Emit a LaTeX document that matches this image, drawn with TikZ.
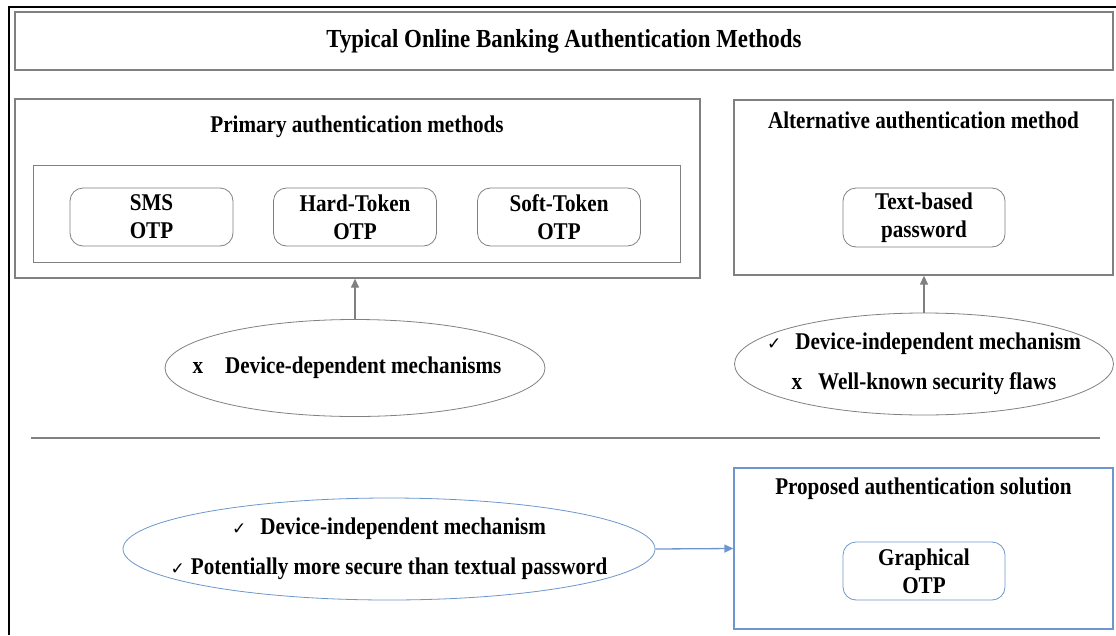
\documentclass[tikz,border=0pt]{standalone}
\usepackage{fontspec}
\setmainfont{Liberation Serif}[FakeStretch=0.88]
\newfontfamily\tickfont{DejaVu Sans}
\usetikzlibrary{arrows.meta, shapes.geometric}
\definecolor{boxGray}{RGB}{128,128,128}
\definecolor{lineBlue}{RGB}{108,150,205}
\newcommand{\yes}{{\tickfont\fontsize{17}{17}\selectfont ✓}}

\begin{document}
\begin{tikzpicture}[x=1pt, y=-1pt,
		every node/.style={inner sep=0pt, font=\bfseries\fontsize{24}{28}\selectfont},
		frame/.style={draw=boxGray, line width=1.3pt},
		method/.style={draw=boxGray, line width=0.8pt, rounded corners=13pt, align=center,
			minimum width=163pt, minimum height=58pt},
		reason/.style={ellipse, draw=boxGray, line width=0.8pt},
		lines/.style={align=center, font=\bfseries\fontsize{24}{40}\selectfont},
		up/.style={draw=boxGray, line width=1.3pt, -{Triangle[length=9pt, width=8pt]}}]
		\useasboundingbox (0,0) rectangle (1116,635);
		\draw [line width=2.4pt] (1116,7) -- (9,7) -- (9,635);
		%%%%%%%%%%%%%
		\node [frame, minimum width=1098pt, minimum height=58pt] (title) at (564,41) {};
		\node [font=\bfseries\fontsize{26}{28}\selectfont] (titletext) at (title) {Typical Online Banking Authentication Methods};
		%%%%%%%%%%%%%
		\node [frame, minimum width=685pt, minimum height=179pt] (primary) at (357.5,188.5) {};
		\node (primarytext) at (357,127) {Primary authentication methods};
		\node [draw=boxGray, line width=1pt, minimum width=647pt, minimum height=97pt] (inner) at (356.5,213.5) {};
		\node [method] (sms) at (151.5,217) {SMS\\OTP};
		\node [method] (hard) at (355,217) {Hard-Token\\OTP};
		\node [method] (soft) at (559,217) {Soft-Token\\OTP};
		%%%%%%%%%%%%%
		\node [frame, minimum width=379pt, minimum height=175pt] (alt) at (923.5,187.5) {};
		\node (alttext) at (923.5,120) {Alternative authentication method};
		\node [method, minimum width=162pt, minimum height=59pt] (textpw) at (924,217.5) {Text-based\\password};
		%%%%%%%%%%%%%
		\node [reason, minimum width=380pt, minimum height=97pt] (depend) at (355,368) {};
		\node (dependtext) at (347,368) {x\hspace{22pt}Device-dependent mechanisms};
		\node [reason, minimum width=379pt, minimum height=102pt] (indep) at (924,364) {};
		\node [lines] (indeptext) at (indep) {\yes\hspace{14pt}Device-independent mechanism\\x\hspace{16pt}Well-known security flaws};
		%%%%%%%%%%%%%%%%%%%%%%
		\draw [up] (depend.north) to (depend.north |- primary.south);
		\draw [up] (indep.north) to (indep.north |- alt.south);
		\coordinate (sepl) at (31,438); \coordinate (sepr) at (1100,438);
		\draw [draw=boxGray, line width=1.3pt] (sepl) -- (sepr);
		%%%%%%%%%%%%%%%%%%%%%%
		\node [reason, draw=lineBlue, minimum width=532pt, minimum height=102pt] (graphreason) at (389,549) {};
		\node [lines] (graphreasontext) at (graphreason) {\yes\hspace{14pt}Device-independent mechanism\\\yes\hspace{6pt}Potentially more secure than textual password};
		\node [frame, draw=lineBlue, minimum width=379pt, minimum height=161pt] (proposed) at (923.5,548.5) {};
		\node (proposedtext) at (923.5,489) {Proposed authentication solution};
		\node [method, draw=lineBlue, minimum width=162pt] (graphical) at (924,571) {Graphical\\OTP};
		\draw [draw=lineBlue, line width=1.3pt, -{Triangle[length=9pt, width=8pt]}] (graphreason.east) -- (proposed.west);
\end{tikzpicture}
\end{document}
